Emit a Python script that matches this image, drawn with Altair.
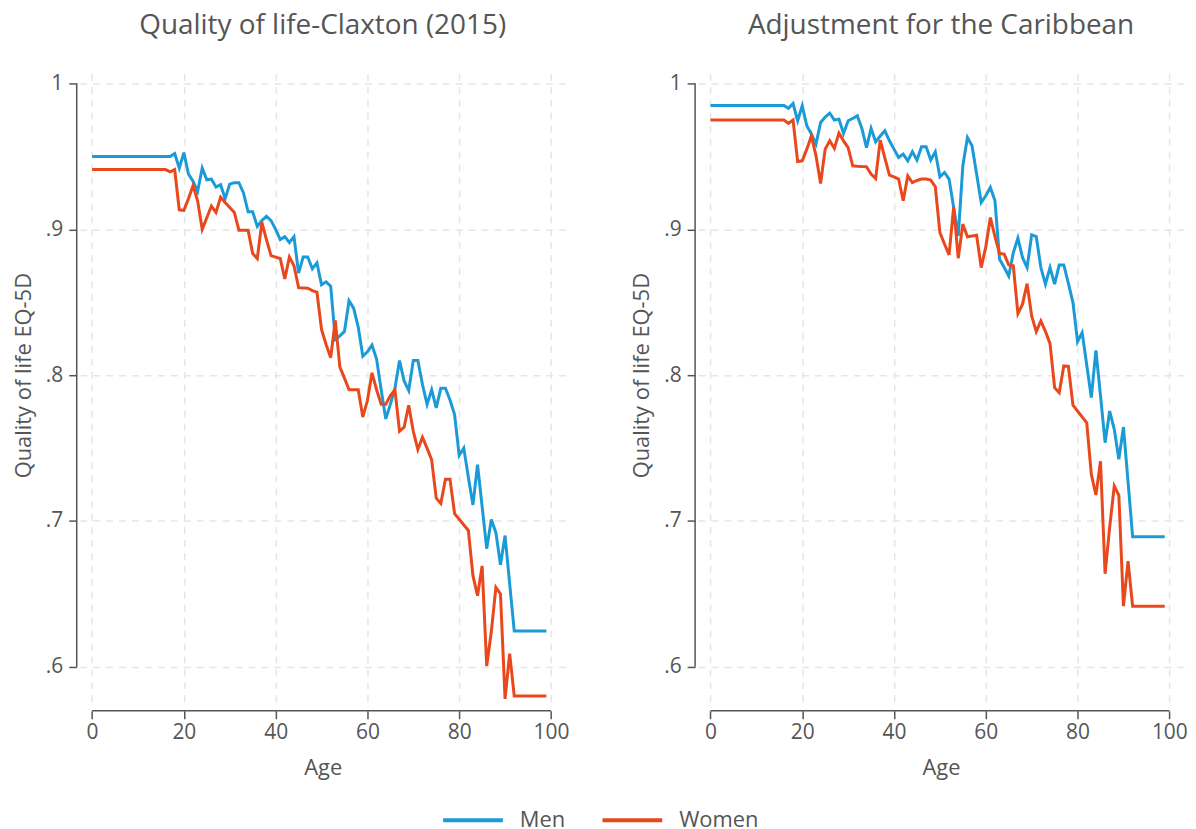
import altair as alt
import pandas as pd

# ---------------- data ----------------
panels = ["Quality of life-Claxton (2015)", "Adjustment for the Caribbean"]
series = ["Men", "Women"]
series_colors = ["#1a9bd7", "#e8481c"]

claxton_men_age = [0, 17, 18, 19, 20, 21, 22, 23, 24, 25, 26, 27, 28, 29, 30, 31, 32, 33, 34, 35,
                   36, 37, 38, 39, 40, 41, 42, 43, 44, 45, 46, 47, 48, 49, 50, 51, 52, 53, 54, 55,
                   56, 57, 58, 59, 60, 61, 62, 63, 64, 65, 66, 67, 68, 69, 70, 71, 72, 73, 74, 75,
                   76, 77, 78, 79, 80, 81, 82, 83, 84, 85, 86, 87, 88, 89, 90, 91, 92, 99]
claxton_men_q = [.950, .950, .952, .942, .9526, .938, .933, .926, .942, .934, .9345, .929, .9306, .921, .931, .932, .932, .925, .912, .912,
                 .902, .906, .909, .906, .900, .893, .895, .891, .895, .870, .881, .881, .873, .877, .862, .864, .861, .8245, .827, .830,
                 .851, .846, .833, .813, .816, .8206, .811, .790, .770, .780, .791, .810, .796, .7895, .810, .810, .7936, .780, .790, .7775,
                 .791, .791, .783, .773, .745, .750, .730, .711, .7386, .710, .681, .701, .692, .670, .690, .657, .6245, .6245]

claxton_women_age = [0, 16, 17, 18, 19, 20, 21, 22, 23, 24, 25, 26, 27, 28, 29, 30, 31, 32, 33, 34,
                     35, 36, 37, 38, 39, 40, 41, 42, 43, 44, 45, 46, 47, 48, 49, 50, 51, 52, 53, 54,
                     55, 56, 57, 58, 59, 60, 61, 62, 63, 64, 65, 66, 67, 68, 69, 70, 71, 72, 73, 74,
                     75, 76, 77, 78, 79, 82, 83, 84, 85, 86, 87, 88, 89, 90, 91, 92, 99]
claxton_women_q = [.941, .941, .9395, .941, .9134, .913, .921, .930, .9196, .900, .908, .916, .9116, .922, .9184, .915, .9116, .8994, .8994, .8994,
                   .8834, .880, .9047, .893, .882, .881, .880, .866, .881, .875, .860, .8598, .8596, .858, .857, .8314, .821, .812, .8376, .8055,
                   .798, .790, .790, .790, .7713, .7826, .8016, .790, .780, .780, .786, .790, .7615, .7643, .7794, .7615, .749, .7574, .750, .742,
                   .7157, .712, .7287, .7287, .705, .6935, .6625, .6488, .6692, .6005, .624, .6545, .650, .578, .6091, .580, .580]

carib_men_age = [0, 16, 17, 18, 19, 20, 21, 22, 23, 24, 25, 26, 27, 28, 29, 30, 31, 32, 33, 34,
                 35, 36, 37, 38, 39, 40, 41, 42, 43, 44, 45, 46, 47, 48, 49, 50, 51, 52, 53, 54,
                 55, 56, 57, 58, 59, 60, 61, 62, 63, 64, 65, 66, 67, 68, 69, 70, 71, 72, 73, 74,
                 75, 76, 77, 78, 79, 80, 81, 82, 83, 84, 85, 86, 87, 88, 89, 90, 91, 92, 99]
carib_men_q = [.985, .985, .983, .9863, .9745, .9848, .971, .9653, .9585, .9733, .977, .9797, .975, .9756, .9658, .9745, .976, .9779, .9692, .9561,
               .9692, .960, .964, .9676, .9607, .955, .9493, .9516, .947, .9532, .9475, .9566, .9566, .9475, .9532, .936, .939, .9345, .915, .8955,
               .9436, .963, .9573, .938, .9184, .923, .9287, .9196, .8795, .874, .868, .884, .894, .8807, .8738, .8962, .895, .8738, .8624, .8738,
               .8624, .8756, .8756, .863, .8498, .823, .8292, .807, .7846, .817, .786, .7537, .7754, .7629, .7423, .7644, .727, .6892, .6892]

carib_women_age = [0, 16, 17, 18, 19, 20, 21, 22, 23, 24, 25, 26, 27, 28, 29, 30, 31, 32, 33, 34,
                   35, 36, 37, 38, 39, 40, 41, 42, 43, 44, 45, 46, 47, 48, 49, 50, 51, 52, 53, 54,
                   55, 56, 57, 58, 59, 60, 61, 62, 63, 64, 65, 66, 67, 68, 69, 70, 71, 72, 73, 74,
                   75, 76, 77, 78, 79, 82, 83, 84, 85, 86, 87, 88, 89, 90, 91, 92, 99]
carib_women_q = [.975, .975, .9726, .975, .9465, .947, .955, .9642, .9504, .9314, .955, .9607, .9555, .966, .9607, .9561, .9436, .9433, .9431, .943,
                 .938, .9349, .9612, .949, .9372, .936, .9345, .9196, .9367, .9321, .9335, .9345, .9345, .9338, .9292, .8978, .890, .8825, .9154, .8802,
                 .9036, .8949, .8955, .896, .8738, .888, .9081, .895, .8834, .883, .8756, .875, .8422, .8487, .8628, .8406, .8299, .8372, .830, .8216,
                 .7914, .788, .8063, .806, .7794, .7674, .732, .7178, .741, .6638, .6958, .724, .7176, .6416, .6725, .6416, .6416]

x_ticks = [0, 20, 40, 60, 80, 100]
y_ticks = [0.6, 0.7, 0.8, 0.9, 1.0]

# ---------------- tables ----------------
rows = []
for pnl, sex, ages, vals in [
    (panels[0], "Men", claxton_men_age, claxton_men_q),
    (panels[0], "Women", claxton_women_age, claxton_women_q),
    (panels[1], "Men", carib_men_age, carib_men_q),
    (panels[1], "Women", carib_women_age, carib_women_q),
]:
    for a, v in zip(ages, vals):
        rows.append({"panel": pnl, "sex": sex, "age": a, "q": v})
df = pd.DataFrame(rows)

frame = pd.DataFrame({"ylo": [min(y_ticks)], "yhi": [max(y_ticks)],
                      "xlo": [min(x_ticks)], "xhi": [max(x_ticks)]})

# ---------------- style ----------------
FONT = "Open Sans"
GRAY = "#555555"
W, H = 488, 631
XDOM = [-2.7, 103.2]
YDOM = [0.576, 1.0069]
XOFF = 9
# vertical centre of the 0.6-1.0 frame, in plot pixels (for the y title)
YMID = H * (YDOM[1] - 0.8) / (YDOM[1] - YDOM[0])
xscale = alt.Scale(domain=XDOM, nice=False, zero=False)
yscale = alt.Scale(domain=YDOM, nice=False, zero=False)
xaxis = alt.Axis(values=x_ticks, title="Age", domain=False, offset=XOFF,
                 tickSize=8, labelPadding=3, titlePadding=15,
                 labelFlush=False, grid=True)
yaxis = alt.Axis(values=y_ticks, title="Quality of life EQ-5D", domain=False,
                 offset=3, tickSize=8, labelPadding=6, titlePadding=10,
                 labelFlush=False, grid=True, titleY=YMID,
                 labelExpr="datum.value >= 1 ? '1' : '.' + round(datum.value * 10)")


def make_panel(title):
    d = df[df["panel"] == title]
    lines = alt.Chart(d).mark_line(strokeWidth=3).encode(
        x=alt.X("age:Q", scale=xscale, axis=xaxis, title="Age"),
        y=alt.Y("q:Q", scale=yscale, axis=yaxis, title="Quality of life EQ-5D"),
        color=alt.Color("sex:N",
                        scale=alt.Scale(domain=series, range=series_colors),
                        legend=alt.Legend(title=None, orient="none", direction="horizontal",
                                          legendX=363, legendY=718,
                                          symbolType="stroke", symbolSize=3600,
                                          symbolStrokeWidth=4, labelFontSize=22,
                                          labelFont=FONT, labelColor=GRAY,
                                          labelOffset=15, columnPadding=29, padding=0)),
        detail="sex:N",
    )
    yline = alt.Chart(frame).mark_rule(color=GRAY, strokeWidth=1.5).encode(
        x=alt.value(-3),
        y=alt.Y("ylo:Q", scale=yscale, axis=yaxis, title="Quality of life EQ-5D"),
        y2="yhi:Q",
    )
    xline = alt.Chart(frame).mark_rule(color=GRAY, strokeWidth=1.5).encode(
        x=alt.X("xlo:Q", scale=xscale, axis=xaxis, title="Age"),
        x2="xhi:Q",
        y=alt.value(H + XOFF),
    )
    return alt.layer(lines, yline, xline).properties(
        width=W, height=H,
        title=alt.TitleParams(title, anchor="middle", offset=33),
    )


chart = alt.hconcat(make_panel(panels[0]), make_panel(panels[1]), spacing=61).properties(
    padding={"left": 4, "top": 2, "right": 0, "bottom": 0}
).configure_view(stroke=None).configure_axis(
    labelFont=FONT, labelFontSize=21, labelColor=GRAY,
    titleFont=FONT, titleFontSize=22, titleColor=GRAY, titleFontWeight="normal",
    gridColor="#e6e6e6", gridDash=[7, 6], gridWidth=1.5,
    tickColor=GRAY, tickWidth=1.5,
).configure_title(
    font=FONT, fontSize=28, color=GRAY, fontWeight="normal",
)

chart.save("out.html", embed_options={"renderer": "svg", "actions": False})
